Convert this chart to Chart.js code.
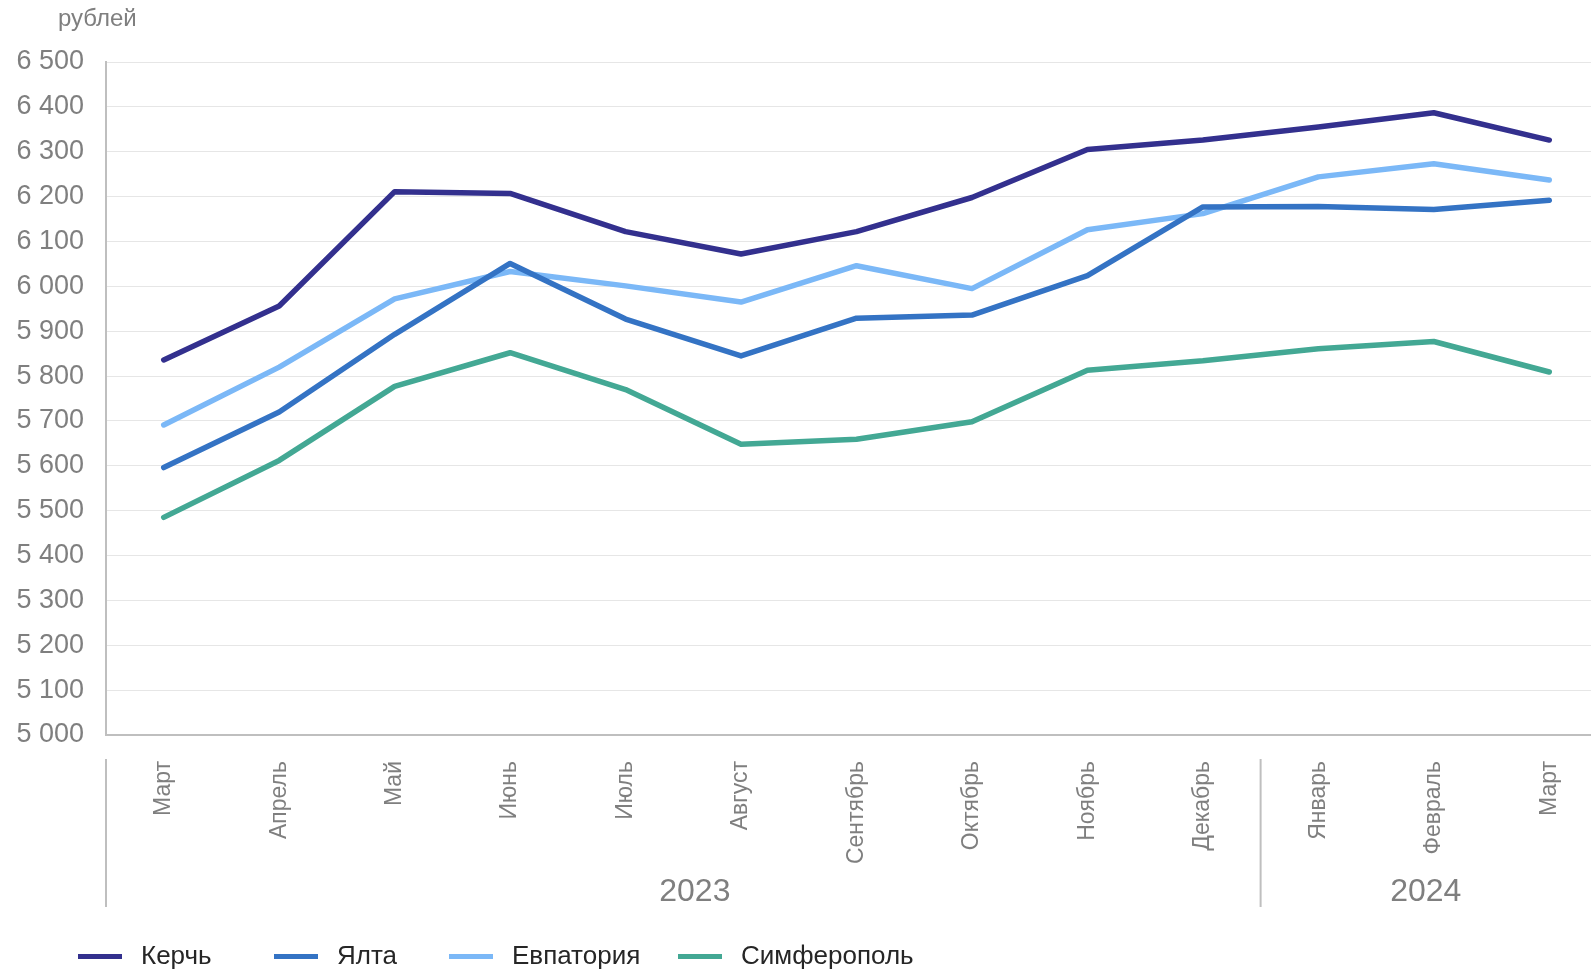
<!DOCTYPE html>
<html>
<head>
<meta charset="utf-8">
<script src="https://cdn.jsdelivr.net/npm/chart.js@4.4.1/dist/chart.umd.min.js"></script>
<style>
  html, body { margin: 0; padding: 0; background: #fff; overflow: hidden; }
  /* область построения у оригинала уходит за правый край картинки, поэтому холст шире окна */
  #wrap { position: relative; width: 1607px; height: 970px; }
  #c { display: block; }
</style>
</head>
<body>
<div id="wrap"><canvas id="c"></canvas></div>
<script>
var months = ['Март','Апрель','Май','Июнь','Июль','Август','Сентябрь','Октябрь','Ноябрь','Декабрь','Январь','Февраль','Март'];
var years = ['2023','2024'];
var yearStart = [0, 10];   // индекс первого месяца каждого года

var kerch      = [5836, 5956, 6211, 6207, 6122, 6072, 6122, 6198, 6305, 6326, 6355, 6387, 6326];
var yalta      = [5596, 5720, 5893, 6051, 5927, 5845, 5929, 5936, 6024, 6177, 6178, 6171, 6192];
var evpatoria  = [5691, 5820, 5972, 6033, 6001, 5965, 6046, 5995, 6126, 6162, 6244, 6273, 6237];
var simferopol = [5485, 5612, 5777, 5852, 5770, 5648, 5659, 5698, 5813, 5834, 5861, 5877, 5809];

var gray = '#7f7f7f';
var fam = '"Liberation Sans", Arial, sans-serif';

// подписи годов под месяцами, разделители и легенда
var extras = {
  id: 'extras',
  afterDraw: function(chart) {
    var ctx = chart.ctx, x = chart.scales.x;
    var step = x.getPixelForValue(1) - x.getPixelForValue(0);
    ctx.save();
    ctx.strokeStyle = '#bfbfbf';
    ctx.lineWidth = 2;
    yearStart.forEach(function(s) {
      var sx = x.getPixelForValue(s) - step / 2;
      ctx.beginPath();
      ctx.moveTo(sx, 759);
      ctx.lineTo(sx, 907);
      ctx.stroke();
    });
    ctx.fillStyle = gray;
    ctx.font = '32px ' + fam;
    ctx.textAlign = 'center';
    ctx.textBaseline = 'middle';
    var yearPos = [4.6, 10.93];
    years.forEach(function(y, i) {
      ctx.fillText(y, x.getPixelForValue(yearPos[i]), 892);
    });

    ctx.font = '24px ' + fam;
    ctx.textAlign = 'left';
    ctx.fillText('рублей', 58, 19);

    var lx = [78, 274, 449, 678];
    ctx.font = '26px ' + fam;
    chart.data.datasets.forEach(function(ds, i) {
      ctx.fillStyle = ds.borderColor;
      ctx.fillRect(lx[i], 954, 44, 5);
      ctx.fillStyle = '#262626';
      ctx.fillText(ds.label, lx[i] + 63, 957);
    });
    ctx.restore();
  }
};

new Chart(document.getElementById('c'), {
  type: 'line',
  data: {
    labels: months,
    datasets: [
      { label: 'Керчь', data: kerch, borderColor: '#33308e' },
      { label: 'Ялта', data: yalta, borderColor: '#3473c4' },
      { label: 'Евпатория', data: evpatoria, borderColor: '#7bb8f7' },
      { label: 'Симферополь', data: simferopol, borderColor: '#43a894' }
    ]
  },
  options: {
    responsive: true,
    maintainAspectRatio: false,
    animation: false,
    layout: { padding: { top: 62, right: 0, bottom: 63, left: 0 } },
    elements: {
      line: { borderWidth: 5.5, tension: 0, borderCapStyle: 'round', borderJoinStyle: 'round' },
      point: { radius: 0 }
    },
    plugins: {
      legend: { display: false },
      tooltip: { enabled: false }
    },
    scales: {
      x: {
        offset: true,
        grid: { display: false, drawTicks: false },
        border: { color: '#bfbfbf', width: 2 },
        ticks: {
          minRotation: 90, maxRotation: 90, padding: 26,
          color: gray,
          font: { family: fam, size: 23 }
        },
        afterFit: function(s) { s.height = 172; }
      },
      y: {
        min: 5000, max: 6500,
        grid: { color: '#e6e6e6', lineWidth: 1, drawTicks: false },
        border: { color: '#bfbfbf', width: 2 },
        ticks: {
          stepSize: 100, padding: 22,
          color: gray,
          font: { family: fam, size: 27 },
          callback: function(v) { return String(v).replace(/\B(?=(\d{3})+(?!\d))/g, ' '); }
        },
        afterFit: function(s) { s.width = 106; }
      }
    }
  },
  plugins: [extras]
});
</script>
</body>
</html>
